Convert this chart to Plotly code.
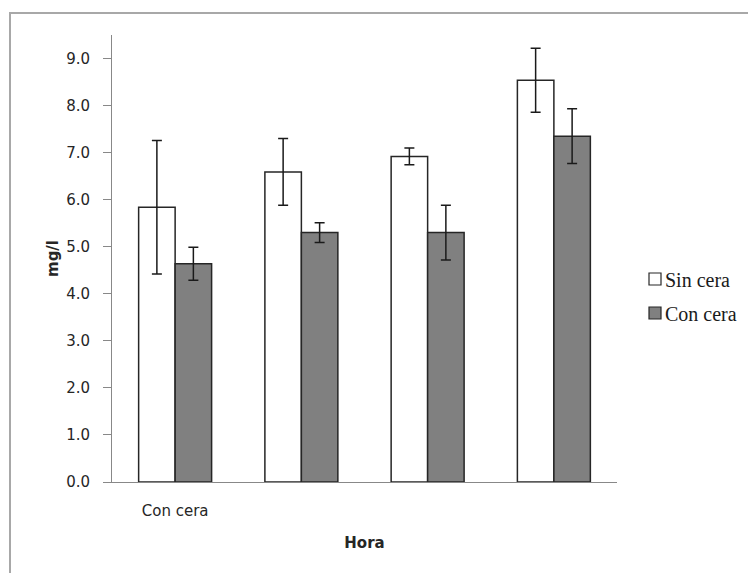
import plotly.graph_objects as go

# Concentration (mg/l) per hour group, with and without wax coating
categories = [0, 1, 2, 3]
tick_labels = ["Con cera", "", "", ""]

series_names = ["Sin cera", "Con cera"]
series_colors = ["#ffffff", "#808080"]

sin_cera = [5.84, 6.59, 6.92, 8.54]
sin_cera_err = [1.42, 0.71, 0.18, 0.68]

con_cera = [4.64, 5.30, 5.30, 7.35]
con_cera_err = [0.35, 0.21, 0.58, 0.58]

outline = dict(color="#262626", width=1.5)

fig = go.Figure()
for name, color, vals, errs in zip(series_names, series_colors,
                                   [sin_cera, con_cera],
                                   [sin_cera_err, con_cera_err]):
    fig.add_trace(go.Bar(
        x=categories, y=vals, name=name,
        marker=dict(color=color, line=outline),
        error_y=dict(type="data", array=errs, color="#1a1a1a",
                     thickness=1.5, width=5),
    ))

# Plot-area geometry in pixels, used to place items given in paper units
L, R, T, B = 112, 617, 35, 482
W, H = R - L, B - T


def px_x(x):
    return (x - L) / W


def px_y(y):
    return (B - y) / H


# Outer chart-area frame
fig.add_shape(type="rect", xref="paper", yref="paper",
              x0=px_x(10), x1=px_x(790), y0=px_y(610), y1=px_y(13),
              line=dict(color="#a8a8a8", width=2), layer="below")

# Legend: swatch + serif label for each series
for i, (name, color) in enumerate(zip(series_names, series_colors)):
    cy = 279 + 34 * i
    fig.add_shape(type="rect", xref="paper", yref="paper",
                  x0=px_x(649), x1=px_x(661), y0=px_y(cy + 6), y1=px_y(cy - 6),
                  fillcolor=color, line=dict(color="#262626", width=1.2))
    fig.add_annotation(xref="paper", yref="paper", x=px_x(663), y=px_y(cy + 1),
                       xanchor="left", yanchor="middle", showarrow=False,
                       text=name,
                       font=dict(family="Liberation Serif", size=20,
                                 color="#1a1a1a"))

fig.update_layout(
    width=748, height=573,
    margin=dict(l=L, r=748 - R, t=T, b=573 - B),
    paper_bgcolor="white", plot_bgcolor="white",
    barmode="group", bargap=0.422, bargroupgap=0,
    font=dict(family="DejaVu Sans", size=15, color="#262626"),
    showlegend=False,
    xaxis=dict(
        range=[-0.5, 3.5], tickmode="array", tickvals=categories,
        ticktext=tick_labels, showline=True, linecolor="#888888",
        linewidth=1, ticks="", showgrid=False, zeroline=False,
        ticklabelstandoff=15,
        title=dict(text="<b>Hora</b>", font=dict(size=15), standoff=18),
    ),
    yaxis=dict(
        range=[0, 9.5], tickmode="array",
        tickvals=[0, 1, 2, 3, 4, 5, 6, 7, 8, 9],
        tickformat=".1f", showline=True, linecolor="#888888", linewidth=1,
        ticks="outside", ticklen=8, tickcolor="#888888",
        showgrid=False, zeroline=False, ticklabelstandoff=10,
        title=dict(text="<b>mg/l</b>", font=dict(size=15), standoff=3),
    ),
)

fig.write_html("out.html")
